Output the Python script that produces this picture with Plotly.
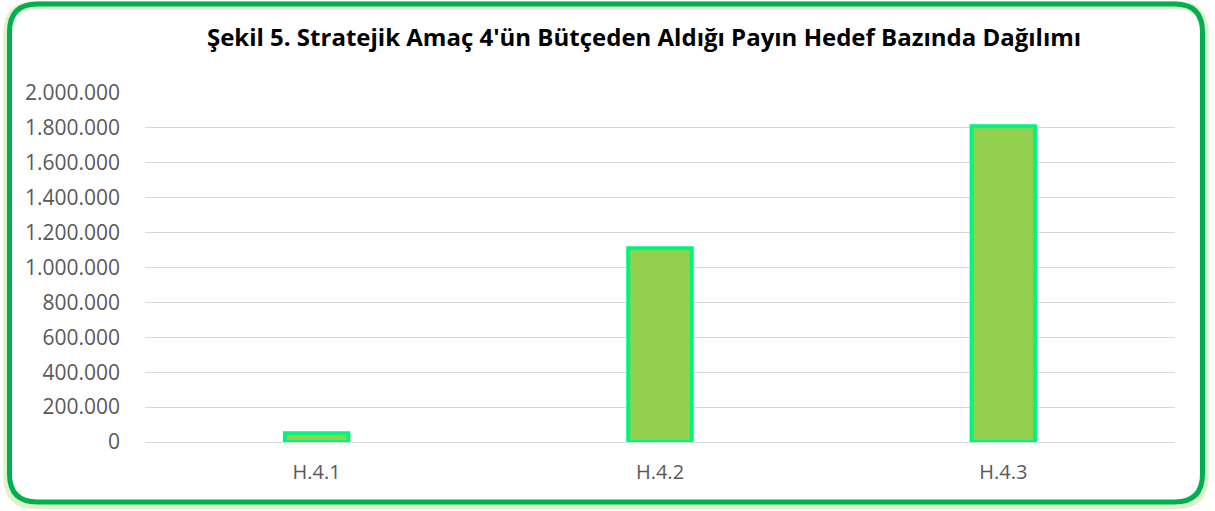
import plotly.graph_objects as go

categories = ["H.4.1", "H.4.2", "H.4.3"]
values = [50000, 1110000, 1810000]
tick_vals = [0, 200000, 400000, 600000, 800000, 1000000, 1200000, 1400000, 1600000, 1800000, 2000000]

W, H = 1215, 511
L, R, T, B = 145, 40, 93, 69
pw, ph = W - L - R, H - T - B

fig = go.Figure()
fig.add_trace(go.Bar(
    x=categories, y=values, width=0.185,
    marker=dict(color="#94D050", line=dict(color="#00F57A", width=4)),
))

def px2x(px):
    return (px - L) / pw

def py2y(py):
    return (H - B - py) / ph

def rounded(xa, xb, ya, yb, r):
    x0, x1, y0, y1 = px2x(xa), px2x(xb), py2y(yb), py2y(ya)
    rx, ry = r / pw, r / ph
    return (f"M {x0+rx},{y1} L {x1-rx},{y1} Q {x1},{y1} {x1},{y1-ry} "
            f"L {x1},{y0+ry} Q {x1},{y0} {x1-rx},{y0} L {x0+rx},{y0} "
            f"Q {x0},{y0} {x0},{y0+ry} L {x0},{y1-ry} Q {x0},{y1} {x0+rx},{y1} Z")

# soft glow behind the frame
fig.add_shape(type="path", path=rounded(7.5, 1204.5, 5, 505, 28), xref="paper", yref="paper",
              line=dict(color="rgba(146,208,80,0.3)", width=8), layer="above")
fig.add_shape(type="path", path=rounded(9.5, 1202.5, 4, 502, 28), xref="paper", yref="paper",
              line=dict(color="#00B050", width=5), layer="above")

fig.update_layout(
    width=W, height=H,
    margin=dict(l=L, r=R, t=T, b=B),
    paper_bgcolor="white", plot_bgcolor="white",
    separators=",.",
    title=dict(text="Şekil 5. Stratejik Amaç 4'ün Bütçeden Aldığı Payın Hedef Bazında Dağılımı",
               x=644 / W, xanchor="center", xref="container",
               y=1 - 38 / H, yanchor="middle", yref="container",
               font=dict(family="Open Sans", size=24, color="#000000", weight="bold")),
    showlegend=False,
    font=dict(family="Open Sans", color="#595959"),
    xaxis=dict(showgrid=False, showline=True, linecolor="#D9D9D9", linewidth=1,
               tickfont=dict(size=20, color="#595959"), ticks="", ticklabelstandoff=12),
    yaxis=dict(range=[0, 2000000], tickvals=tick_vals, tickformat=",d",
               showgrid=True, gridcolor="#D9D9D9", gridwidth=1, zeroline=False,
               tickfont=dict(size=21, color="#595959"), ticks="", ticklabelstandoff=24),
)

fig.write_html("out.html", config={"displayModeBar": False},
               post_script="document.body.style.margin='0';")
